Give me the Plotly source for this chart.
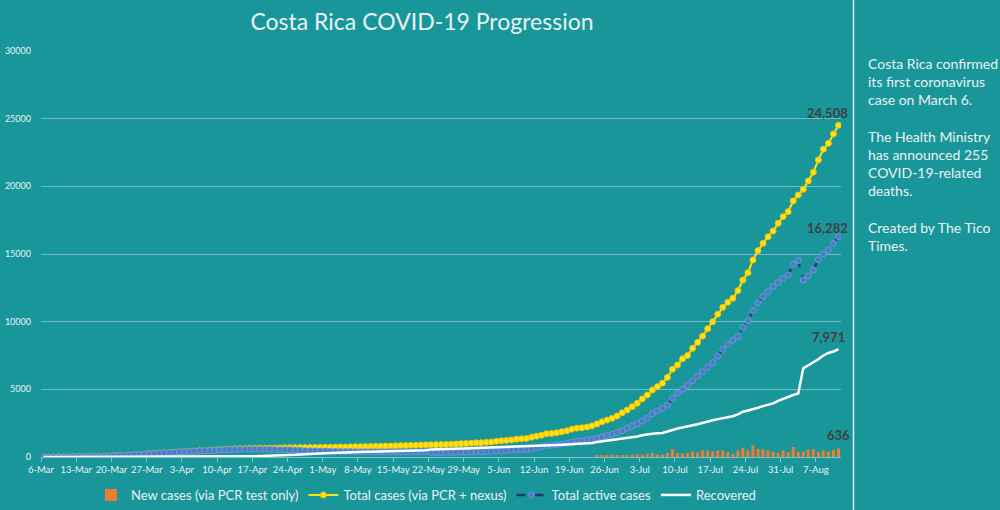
import pandas as pd
import plotly.graph_objects as go

# ---------------- data ----------------
start_date = "2020-03-06"

total_cases = [
    1, 1, 1, 5, 9, 13, 22, 23, 26, 27, 35, 41, 50, 69, 87, 113, 117, 134, 158, 177,
    201, 231, 263, 295, 314, 330, 347, 375, 396, 416, 435, 454, 467, 483, 502, 539, 558, 577, 595, 612,
    618, 626, 642, 649, 655, 660, 662, 669, 681, 686, 687, 693, 695, 697, 705, 713, 719, 725, 733, 739,
    742, 755, 761, 765, 773, 780, 792, 801, 804, 815, 830, 843, 853, 863, 866, 882, 897, 903, 911, 918,
    930, 951, 956, 984, 1000, 1022, 1047, 1056, 1084, 1105, 1157, 1194, 1228, 1263, 1318, 1342, 1375, 1461, 1538, 1612,
    1715, 1744, 1796, 1871, 1939, 2058, 2127, 2160, 2213, 2300, 2440, 2600, 2730, 2860, 3030, 3270, 3470, 3720, 3970, 4290,
    4580, 4950, 5200, 5450, 5890, 6480, 6800, 7260, 7500, 8030, 8470, 8940, 9480, 10000, 10550, 11060, 11430, 11730, 12290, 13080,
    13620, 14560, 15250, 15790, 16280, 16700, 17270, 17760, 18130, 18920, 19360, 19780, 20400, 21040, 21950, 22740, 23180, 23872, 24508,
]

active_cases = [
    1, 1, 1, 5, 9, 13, 22, 23, 26, 27, 35, 41, 50, 69, 87, 113, 117, 134, 158, 177,
    200, 229, 259, 291, 309, 325, 341, 369, 388, 408, 424, 442, 455, 469, 486, 519, 537, 547, 559, 567,
    562, 569, 579, 579, 572, 564, 551, 542, 540, 531, 517, 500, 471, 459, 453, 445, 439, 425, 421, 408,
    400, 398, 392, 386, 387, 380, 385, 375, 366, 369, 372, 373, 371, 376, 373, 385, 396, 336, 326, 321,
    325, 338, 332, 349, 352, 366, 381, 378, 395, 405, 439, 455, 471, 488, 529, 532, 546, 615, 688, 757,
    855, 864, 895, 955, 1008, 1112, 1170, 1200, 1260, 1310, 1380, 1480, 1570, 1680, 1800, 1940, 2120, 2290, 2440, 2660,
    2860, 3180, 3400, 3600, 3840, 4340, 4710, 5000, 5320, 5640, 5990, 6300, 6630, 6970, 7450, 7950, 8330, 8620, 8890, 9580,
    10070, 10810, 11400, 11850, 12220, 12590, 12880, 13200, 13450, 14240, 14510, 13080, 13380, 13820, 14560, 15000, 15300, 15790, 16282,
]

recovered = [
    0, 0, 0, 0, 0, 0, 0, 0, 0, 0, 0, 0, 0, 0, 0, 0, 0, 0, 0, 0,
    0, 0, 2, 2, 3, 3, 4, 4, 6, 6, 8, 9, 9, 11, 13, 17, 18, 27, 33, 42,
    53, 53, 59, 66, 79, 92, 107, 121, 135, 149, 164, 187, 218, 232, 246, 262, 274, 294, 306, 325,
    336, 351, 363, 373, 380, 394, 401, 420, 432, 440, 451, 463, 475, 480, 486, 490, 494, 560, 578, 590,
    598, 606, 617, 628, 641, 649, 659, 670, 681, 692, 710, 730, 748, 766, 780, 800, 819, 836, 840, 845,
    850, 870, 890, 905, 920, 935, 945, 960, 990, 1040, 1100, 1150, 1180, 1210, 1260, 1330, 1380, 1430, 1510, 1610,
    1690, 1720, 1750, 1770, 1880, 2000, 2110, 2180, 2240, 2340, 2420, 2500, 2610, 2710, 2800, 2880, 2960, 3010, 3150, 3350,
    3440, 3520, 3640, 3760, 3850, 3960, 4150, 4300, 4470, 4580, 4690, 6550, 6780, 6970, 7220, 7500, 7690, 7790, 7971,
]

# daily new cases (PCR only), reported from 24 June onward
new_cases_start = "2020-06-24"
new_cases = [
    75, 95, 80, 85, 80, 100, 100, 170, 200, 170,
    230, 300, 200, 170, 300, 590, 300, 270, 300, 420,
    340, 490, 490, 420, 490, 490, 370, 220, 490, 690,
    490, 860, 590, 590, 490, 400, 300, 490, 340, 740,
    400, 400, 540, 590, 370, 490, 400, 540, 636,
]

tick_labels = ["6-Mar", "13-Mar", "20-Mar", "27-Mar", "3-Apr", "10-Apr", "17-Apr", "24-Apr",
               "1-May", "8-May", "15-May", "22-May", "29-May", "5-Jun", "12-Jun", "19-Jun",
               "26-Jun", "3-Jul", "10-Jul", "17-Jul", "24-Jul", "31-Jul", "7-Aug"]

side_text = ("Costa Rica confirmed<br>its first coronavirus<br>case on March 6.<br><br>"
             "The Health Ministry<br>has announced 255<br>COVID-19-related<br>deaths.<br><br>"
             "Created by The Tico<br>Times.")

# ---------------- layout helpers ----------------
W, H = 1000, 510
L, R, T, B = 41, 841, 51, 457
def px_x(x):
    return (x - L) / (R - L)
def px_y(y):
    return (B - y) / (B - T)

dates = pd.date_range(start_date, periods=len(total_cases), freq="D")
new_dates = pd.date_range(new_cases_start, periods=len(new_cases), freq="D")
tick_vals = [pd.Timestamp(start_date) + pd.Timedelta(days=7 * i) - pd.Timedelta(hours=12)
             for i in range(len(tick_labels))]

BG = "#19969A"
LIGHT = "#E9F2F2"
FONT = "Lato"

fig = go.Figure()
fig.add_trace(go.Bar(
    x=new_dates, y=new_cases, name="New cases (via PCR test only)",
    marker=dict(color="#ED7D31", line=dict(width=0)),
))
fig.add_trace(go.Scatter(
    x=dates, y=total_cases, name="Total cases (via PCR + nexus)", mode="lines+markers",
    line=dict(color="#FFE21C", width=2),
    marker=dict(size=6, color="#FFE01A", line=dict(color="#EDC300", width=1)),
))
fig.add_trace(go.Scatter(
    x=dates, y=active_cases, name="Total active cases", mode="lines+markers",
    line=dict(color="#1C3A6C", width=2.5, dash="dash"),
    marker=dict(size=6, color="#4A7CC8", line=dict(color="#6C98D6", width=1)),
))
fig.add_trace(go.Scatter(
    x=dates, y=recovered, name="Recovered", mode="lines",
    line=dict(color="#FFFFFF", width=2.5),
))

# end-of-series data labels
labels = [
    (dates[-1], total_cases[-1], -11, 12),
    (dates[-1], active_cases[-1], -11, 9),
    (dates[-1], recovered[-1], -10, 12),
    (new_dates[-1], new_cases[-1], 0, 13),
]
for x, v, xs, ys in labels:
    fig.add_annotation(x=x, y=v, xref="x", yref="y", text=f"<b>{v:,}</b>",
                       showarrow=False, xshift=xs, yshift=ys, yanchor="middle",
                       font=dict(family=FONT, size=13, color="#404040"))

fig.add_annotation(x=px_x(866), y=px_y(53), xref="paper", yref="paper",
                   text=side_text, showarrow=False, align="left",
                   xanchor="left", yanchor="top",
                   font=dict(family=FONT, size=14, color=LIGHT))

fig.add_shape(type="line", xref="paper", yref="paper",
              x0=px_x(853.5), x1=px_x(853.5), y0=px_y(0), y1=px_y(H),
              line=dict(color="rgba(255,255,255,0.85)", width=1.5))

fig.update_layout(
    width=W, height=H, autosize=False,
    paper_bgcolor=BG, plot_bgcolor=BG,
    margin=dict(l=L, r=W - R, t=T, b=H - B, autoexpand=False),
    font=dict(family=FONT, color=LIGHT),
    title=dict(text="Costa Rica COVID-19 Progression", x=0.422, xref="container",
               xanchor="center", y=1 - 22 / H, yref="container", yanchor="middle",
               font=dict(family=FONT, size=23, color=LIGHT)),
    bargap=0.4,
    showlegend=True,
    legend=dict(orientation="h", x=px_x(426), xanchor="center", y=px_y(495), yanchor="middle",
                font=dict(family=FONT, size=13, color=LIGHT), bgcolor="rgba(0,0,0,0)",
                traceorder="normal", itemwidth=30),
    xaxis=dict(type="date", range=[pd.Timestamp(start_date) - pd.Timedelta(hours=12),
                                   dates[-1] + pd.Timedelta(hours=12)],
               tickvals=tick_vals, ticktext=tick_labels, tickangle=0, automargin=False,
               showgrid=False, zeroline=False,
               showline=True, linecolor="rgba(255,255,255,0.45)", linewidth=1,
               ticks="outside", ticklen=4, tickcolor="rgba(255,255,255,0.45)",
               tickfont=dict(family=FONT, size=9.5, color=LIGHT)),
    yaxis=dict(range=[0, 30000], dtick=5000, showgrid=True, automargin=False,
               gridcolor="rgba(255,255,255,0.38)", gridwidth=1, zeroline=False,
               showline=False, ticks="", tickformat="d", ticklabelstandoff=9,
               tickfont=dict(family=FONT, size=9, color=LIGHT)),
)

fig.write_html("out.html", config={"displayModeBar": False},
               post_script="document.body.style.margin='0';document.body.style.overflow='hidden';")
